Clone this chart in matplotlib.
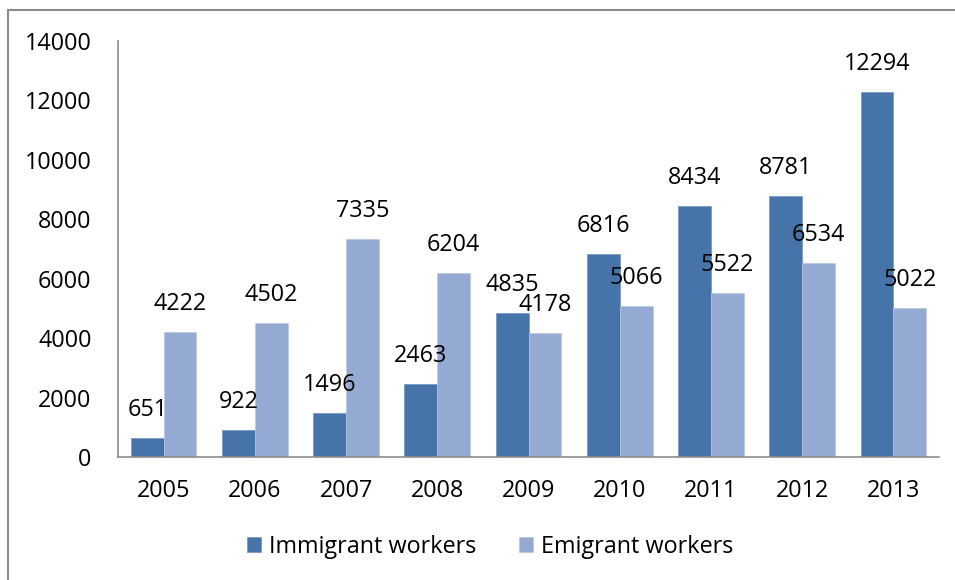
import matplotlib.pyplot as plt
import numpy as np
from matplotlib.lines import Line2D

years = ["2005", "2006", "2007", "2008", "2009", "2010", "2011", "2012", "2013"]
immigrant = [651, 922, 1496, 2463, 4835, 6816, 8434, 8781, 12294]
emigrant = [4222, 4502, 7335, 6204, 4178, 5066, 5522, 6534, 5022]
y_ticks = [0, 2000, 4000, 6000, 8000, 10000, 12000, 14000]

plt.rcParams['font.family'] = ['Open Sans', 'DejaVu Sans']

W, H = 955, 580
fig = plt.figure(figsize=(W / 100, H / 100), dpi=100)
ax = fig.add_axes([118 / W, 1 - 457 / H, (939 - 118) / W, (457 - 41) / H])

x = np.arange(len(years))
bw = 0.36
b1 = ax.bar(x - bw / 2, immigrant, bw, color="#4674a8", edgecolor="#6f93c0", linewidth=0.5,
            label="Immigrant workers")
b2 = ax.bar(x + bw / 2, emigrant, bw, color="#94aad2", edgecolor="#b7c7e3", linewidth=0.5,
            label="Emigrant workers")

for bars, vals in ((b1, immigrant), (b2, emigrant)):
    for r, v in zip(bars, vals):
        ax.annotate(str(v), (r.get_x() + r.get_width() / 2, v), xytext=(0, 11.5),
                    textcoords="offset points", ha="center", va="bottom", fontsize=16.8)

ax.set_xlim(-0.5, len(years) - 0.5)
ax.set_ylim(0, 14000)
ax.set_yticks(y_ticks)
ax.set_xticks(x)
ax.set_xticklabels(years)
ax.tick_params(axis="y", length=0, pad=19, labelsize=16.8)
ax.tick_params(axis="x", length=0, pad=16, labelsize=16.8)
for s in ("top", "right"):
    ax.spines[s].set_visible(False)
for s in ("left", "bottom"):
    ax.spines[s].set_color("#8c8c8c")
    ax.spines[s].set_linewidth(1.2)

fig.legend(handles=[b1, b2], loc="center", bbox_to_anchor=(490 / W, 1 - 547 / H), ncol=2,
           frameon=False, fontsize=16.8, handlelength=0.6, handleheight=0.6,
           handletextpad=0.35, columnspacing=1.8)

# outer chart frame (only top and left edges are inside the picture)
fig.add_artist(Line2D([8 / W, 8 / W], [0, 1 - 10 / H], color="#8c8c8c", lw=1.5))
fig.add_artist(Line2D([8 / W, 1], [1 - 10 / H, 1 - 10 / H], color="#8c8c8c", lw=1.5))

fig.savefig("out.png", dpi=100)
